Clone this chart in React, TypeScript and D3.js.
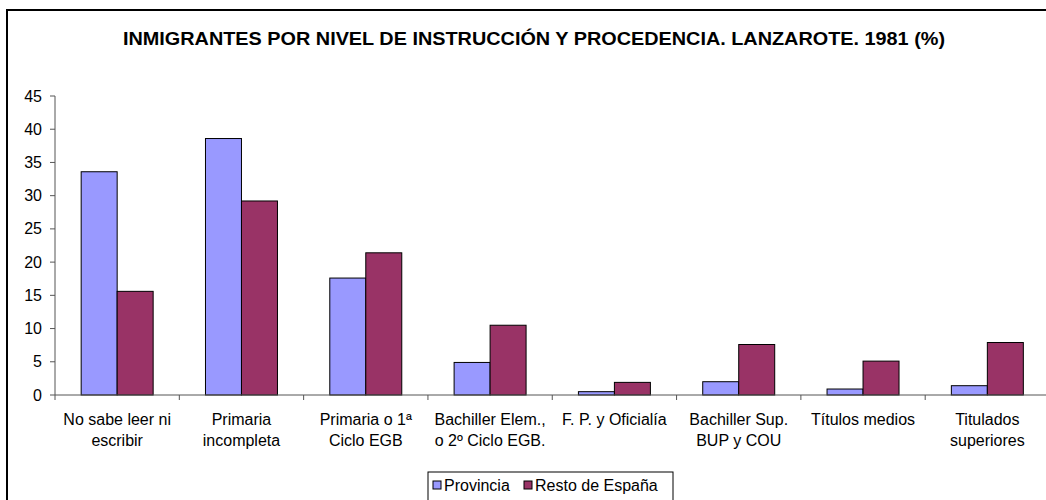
import React from "react";
import * as d3 from "d3";

const categories: string[][] = [
  ["No sabe leer ni", "escribir"],
  ["Primaria", "incompleta"],
  ["Primaria o 1ª", "Ciclo EGB"],
  ["Bachiller Elem.,", "o 2º Ciclo EGB."],
  ["F. P. y Oficialía"],
  ["Bachiller Sup.", "BUP y COU"],
  ["Títulos medios"],
  ["Titulados", "superiores"],
];
const seriesNames = ["Provincia", "Resto de España"];
const provincia = [33.6, 38.6, 17.6, 4.9, 0.5, 2.0, 0.9, 1.4];
const restoEspana = [15.6, 29.2, 21.4, 10.5, 1.9, 7.6, 5.1, 7.9];
const yTicks = [0, 5, 10, 15, 20, 25, 30, 35, 40, 45];
const colors = ["#9999FF", "#993366"];
const title = "INMIGRANTES POR NIVEL DE INSTRUCCIÓN Y PROCEDENCIA. LANZAROTE. 1981 (%)";

export default function App() {
  const W = 1046, H = 500;
  const left = 55, right = 1049.5, top = 96, bottom = 395;
  const font = "Liberation Sans, Arial, sans-serif";
  const idx = categories.map((_, i) => String(i));
  const x0 = d3.scaleBand<string>().domain(idx).range([left, right]).paddingInner(0).paddingOuter(0);
  const x1 = d3.scaleBand<string>().domain(seriesNames).range([0, x0.bandwidth()]).paddingInner(0).paddingOuter(0.727);
  const y = d3.scaleLinear().domain([0, 45]).range([bottom, top]);
  const series = [provincia, restoEspana];
  const tickXs = d3.range(categories.length + 1).map((i) => left + i * x0.step());

  return (
    <svg width={W} height={H} style={{ position: "absolute", left: 0, top: 0 }} xmlns="http://www.w3.org/2000/svg">
      <rect x={0} y={0} width={W} height={H} fill="#fff" />
      <rect x={7} y={10} width={1060} height={520} fill="#fff" stroke="#000" strokeWidth={2} />
      <text x={534} y={45} textAnchor="middle" fontFamily={font} fontWeight="bold" fontSize={18.5}
        textLength={822} lengthAdjust="spacingAndGlyphs">{title}</text>
      {/* bars */}
      {series.map((vals, s) =>
        vals.map((v, i) => (
          <rect key={`${s}-${i}`} x={(x0(String(i)) ?? 0) + (x1(seriesNames[s]) ?? 0)} y={y(v)}
            width={x1.bandwidth()} height={bottom - y(v)} fill={colors[s]} stroke="#000" strokeWidth={1} />
        ))
      )}
      {/* y axis */}
      <line x1={left} x2={left} y1={top} y2={bottom} stroke="#555" strokeWidth={1} />
      {yTicks.map((t) => (
        <g key={t}>
          <line x1={left - 5} x2={left} y1={y(t)} y2={y(t)} stroke="#555" strokeWidth={1} />
          <text x={42} y={y(t) + 5.5} textAnchor="end" fontFamily={font} fontSize={16} fill="#000">{t}</text>
        </g>
      ))}
      {/* x axis */}
      <line x1={left} x2={right} y1={bottom} y2={bottom} stroke="#555" strokeWidth={1} />
      {tickXs.map((tx, i) => (
        <line key={i} x1={tx} x2={tx} y1={bottom} y2={bottom + 5} stroke="#555" strokeWidth={1} />
      ))}
      {categories.map((lines, i) => (
        <text key={i} textAnchor="middle" fontFamily={font} fontSize={16} fill="#000">
          {lines.map((ln, j) => (
            <tspan key={j} x={(x0(String(i)) ?? 0) + x0.bandwidth() / 2} y={425 + j * 21}>{ln}</tspan>
          ))}
        </text>
      ))}
      {/* legend */}
      <rect x={428} y={472} width={245} height={30} fill="#fff" stroke="#000" strokeWidth={1} />
      {seriesNames.map((n, s) => {
        const lx = s === 0 ? 433 : 524;
        return (
          <g key={n}>
            <rect x={lx} y={481} width={8} height={8} fill={colors[s]} stroke="#000" strokeWidth={1} />
            <text x={lx + 11} y={491} fontFamily={font} fontSize={16} fill="#000">{n}</text>
          </g>
        );
      })}
    </svg>
  );
}
